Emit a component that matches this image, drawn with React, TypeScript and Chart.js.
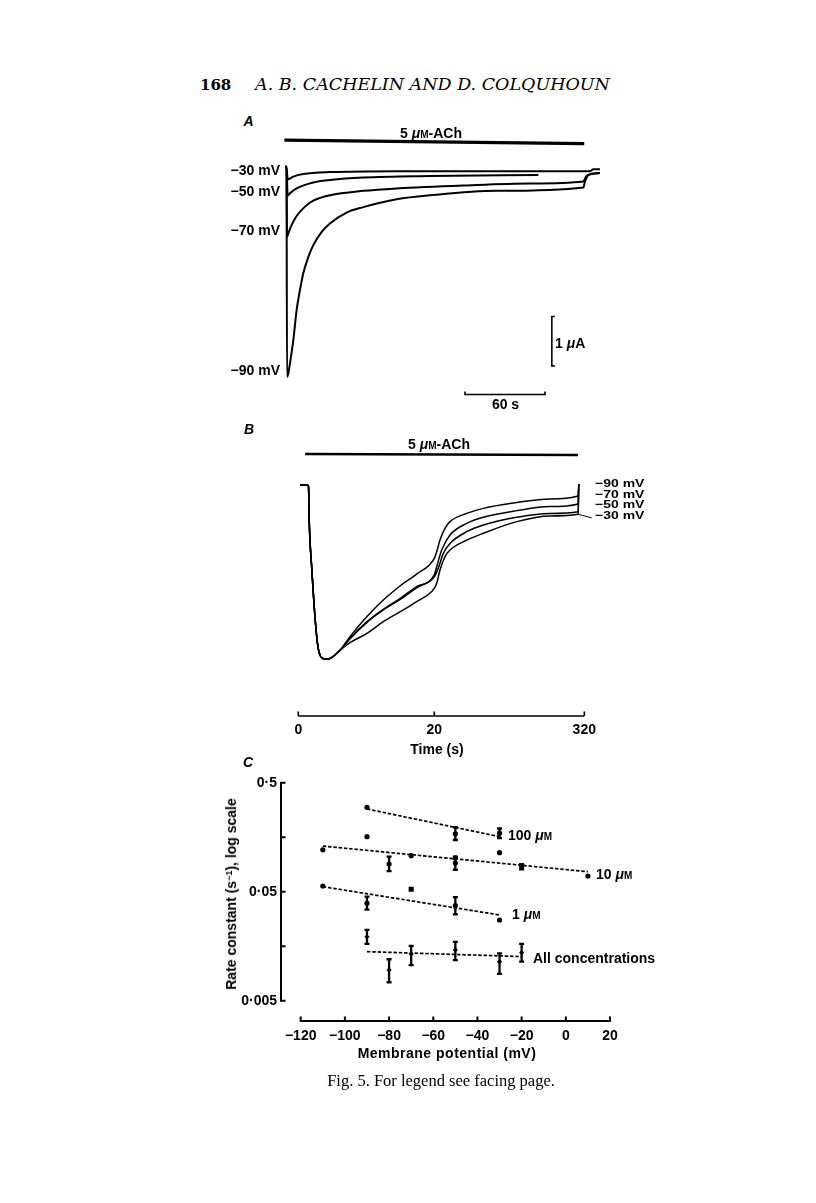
import React, { useEffect, useRef } from "react";
import { Chart, registerables } from "chart.js";

Chart.register(...registerables);

const INK = "#000";
const SANS = '"Liberation Sans", Arial, Helvetica, sans-serif';
const SERIF = '"Liberation Serif", "Times New Roman", serif';
const SERIF_WIDE = '"DejaVu Serif", serif';

// ================= Panel A : current (µA) against time (s) =================
const aTime90 = [-1, 0, 0.4, 1.4, 2.6, 5.1, 7.6, 10.1, 12.6, 16.4, 20.1, 26.4, 32.6, 45.1, 57.6, 82.6, 107.6, 157.6, 222.6, 223.9, 226.4, 235.1];
const aCurr90 = [0, 0, -4.26, -4.19, -3.99, -3.52, -2.91, -2.5, -2.16, -1.83, -1.59, -1.32, -1.15, -0.93, -0.82, -0.66, -0.58, -0.49, -0.42, -0.3, -0.17, -0.13];
const aTime70 = [-1, 0, 0.4, 1.4, 3.9, 7.6, 13.9, 20.1, 32.6, 57.6, 82.6, 132.6, 182.6, 222.6, 224.6, 227.6, 235.1];
const aCurr70 = [0, 0, -1.42, -1.35, -1.18, -1.0, -0.81, -0.69, -0.58, -0.49, -0.44, -0.38, -0.34, -0.3, -0.2, -0.15, -0.13];
const aTime50 = [-1, 0, 0.9, 2.6, 7.6, 20.1, 32.6, 57.6, 107.6, 188.9];
const aCurr50 = [0, 0, -0.59, -0.54, -0.44, -0.32, -0.27, -0.22, -0.19, -0.17];
const aTime30 = [-1, 0, 0.9, 5.1, 12.6, 32.6, 82.6, 227.6, 230.1, 235.1];
const aCurr30 = [0, 0, -0.26, -0.2, -0.15, -0.11, -0.09, -0.09, -0.05, -0.05];
// agonist application bar and calibration bars
const aAChTime = [-1.6, 223.3];
const aAChLevel = [0.54, 0.47];
const aCalCurrTime = [201.2, 199, 199, 201.2];
const aCalCurrLevel = [-3.04, -3.04, -4.04, -4.04];
const aCalTimeTime = [133.9, 133.9, 193.9, 193.9];
const aCalTimeLevel = [-4.56, -4.62, -4.62, -4.56];

// ================= Panel B : normalised current against time (s) =================
const bCommonTime = [0.25, 1.3, 1.5, 1.6, 2.0, 2.5, 2.9, 3.4, 4.1, 4.9, 6.1];
const bCommonCurr = [0, 0, -0.01, -0.2, -0.49, -0.78, -0.93, -0.99, -1.0, -0.99, -0.95];
const bTime90 = [7.6, 10.1, 12.5, 15.0, 17.4, 20.0, 24.8, 31.4, 41.4, 51.4, 84.8, 118, 185, 251, 308, 308.7, 311];
const bCurr90 = [-0.87, -0.755, -0.66, -0.578, -0.511, -0.421, -0.383, -0.316, -0.249, -0.21, -0.163, -0.134, -0.101, -0.08, -0.063, 0, 0];
const bTime70 = [7.6, 10.1, 12.5, 15.0, 17.4, 20.0, 24.8, 34.8, 51.4, 84.8, 118, 185, 251, 308, 308.7, 311];
const bCurr70 = [-0.88, -0.784, -0.713, -0.65, -0.583, -0.516, -0.469, -0.373, -0.287, -0.22, -0.185, -0.147, -0.124, -0.109, 0, 0];
const bTime50 = [7.6, 10.1, 12.5, 15.0, 17.4, 20.0, 28, 38, 51.4, 84.8, 118, 185, 251, 308, 308.7, 311];
const bCurr50 = [-0.882, -0.788, -0.717, -0.656, -0.59, -0.526, -0.478, -0.392, -0.335, -0.268, -0.229, -0.185, -0.163, -0.153, 0, 0];
const bTime30 = [7.6, 10.1, 12.5, 15.0, 17.4, 20.0, 24.8, 31.4, 41.4, 51.4, 84.8, 118, 185, 251, 308, 308.7, 311];
const bCurr30 = [-0.905, -0.851, -0.784, -0.727, -0.669, -0.593, -0.564, -0.488, -0.411, -0.373, -0.316, -0.277, -0.21, -0.178, -0.168, 0, 0];
const bAChTime = [1.0, 307.4];
const bAChLevel = [0.178, 0.172];
const bLeaderTime = [308, 335];
const bLeaderLevel = [-0.168, -0.189];
const bTickTimes = [0, 20, 320];
const bTraceLabels = ["\u221290 mV", "\u221270 mV", "\u221250 mV", "\u221230 mV"];

// ================= Panel C : rate constant (s^-1) against membrane potential (mV) =================
const c100Pot = [-90, -50, -30];
const c100Rate = [0.297, 0.17, 0.172];
const c100Lo = [null, 0.149, 0.155];
const c100Hi = [null, 0.195, 0.19];
const c10Pot = [-110, -90, -80, -70, -50, -50, -30, -20, 10];
const c10Rate = [0.121, 0.16, 0.0897, 0.107, 0.102, 0.0917, 0.114, 0.0848, 0.0697];
const c10Lo = [null, null, 0.0772, null, null, 0.0795, null, 0.08, null];
const c10Hi = [null, null, 0.105, null, null, 0.105, null, 0.0893, null];
const c1Pot = [-110, -90, -70, -50, -30];
const c1Rate = [0.0564, 0.0391, 0.0526, 0.0373, 0.0275];
const c1Lo = [null, 0.0343, null, 0.031, null];
const c1Hi = [null, 0.045, null, 0.0446, null];
const c1Style = ["circle", "circle", "rect", "circle", "circle"];
const c1Radius = [2.6, 2.6, 3.6, 2.6, 2.6];
const cAllPot = [-90, -80, -70, -50, -30, -20];
const cAllRate = [0.0193, 0.00957, 0.0134, 0.0146, 0.0114, 0.0138];
const cAllLo = [0.0166, 0.00738, 0.0106, 0.0118, 0.0088, 0.0114];
const cAllHi = [0.0223, 0.012, 0.0159, 0.0173, 0.0136, 0.0166];
const cFit100Pot = [-90, -30];
const cFit100Rate = [0.287, 0.16];
const cFit10Pot = [-110, 10];
const cFit10Rate = [0.131, 0.0763];
const cFit1Pot = [-110, -30];
const cFit1Rate = [0.0556, 0.0306];
const cFitAllPot = [-90, -20];
const cFitAllRate = [0.0141, 0.0127];
const cXTicks = [-120, -100, -80, -60, -40, -20, 0, 20];
const cYLabelValues = [0.5, 0.05, 0.005];
const cYTickLabels = ["0\u00b75", "0\u00b705", "0\u00b7005"];
const cYMarkValues = [0.5, 0.158, 0.05, 0.0158, 0.005];

// ---------------- layout (page pixels) ----------------
const A_BOX = { left: 262, top: 124, width: 352, height: 286 };
const A_ORIGIN = { x: 286.5, y: 166.7 };
const A_PX_PER_S = 80 / 60;
const A_PX_PER_UA = 49.3;

const B_BOX = { left: 286, top: 436, width: 330, height: 314 };
const B_AREA = { left: 298.3, right: 584.3, top: 436, bottom: 716 };
const B_BASE_Y = 485;
const B_PX_PER_UNIT = 174.3;
const B_SPLIT = 20;
const B_COMPRESS = 150 / 300 / (136 / 20);
const bu = (t: number) => (t <= B_SPLIT ? t : B_SPLIT + (t - B_SPLIT) * B_COMPRESS);

const C_BOX = { left: 196, top: 768, width: 428, height: 286 };
const C_AREA = { left: 300.7, right: 610, top: 782.7, bottom: 1000.7 };
const C_GAP_Y_AXIS = 19.7;
const C_GAP_X_AXIS = 20.3;

const pts = (xs: number[], ys: number[]) => xs.map((x, i) => ({ x, y: ys[i] }));
const tickFont = { family: SANS, size: 14, weight: "bold" as const };

const zeroPad = (s: any) => {
  s.paddingLeft = 0;
  s.paddingRight = 0;
  s.paddingTop = 0;
  s.paddingBottom = 0;
};

const baseOptions = {
  animation: false as const,
  responsive: false,
  devicePixelRatio: 1,
  events: [] as any[],
  plugins: { legend: { display: false }, tooltip: { enabled: false } },
};

function line(data: any[], width: number, extra: any = {}) {
  return {
    data,
    borderColor: INK,
    borderWidth: width,
    pointRadius: 0,
    fill: false,
    showLine: true,
    cubicInterpolationMode: "monotone",
    ...extra,
  };
}

function configA(): any {
  const xmin = (A_BOX.left - A_ORIGIN.x) / A_PX_PER_S;
  const xmax = (A_BOX.left + A_BOX.width - A_ORIGIN.x) / A_PX_PER_S;
  const ymax = (A_ORIGIN.y - A_BOX.top) / A_PX_PER_UA;
  const ymin = -(A_BOX.top + A_BOX.height - A_ORIGIN.y) / A_PX_PER_UA;
  return {
    type: "scatter",
    data: {
      datasets: [
        line(pts(aTime90, aCurr90), 2),
        line(pts(aTime70, aCurr70), 2),
        line(pts(aTime50, aCurr50), 2),
        line(pts(aTime30, aCurr30), 2),
        line(pts(aAChTime, aAChLevel), 3.2, { cubicInterpolationMode: "default", tension: 0 }),
        line(pts(aCalCurrTime, aCalCurrLevel), 1.6, { cubicInterpolationMode: "default", tension: 0 }),
        line(pts(aCalTimeTime, aCalTimeLevel), 1.6, { cubicInterpolationMode: "default", tension: 0 }),
      ],
    },
    options: {
      ...baseOptions,
      layout: { padding: 0 },
      scales: {
        x: { type: "linear", display: false, min: xmin, max: xmax },
        y: { type: "linear", display: false, min: ymin, max: ymax },
      },
    },
  };
}

const bAxisPlugin = {
  id: "bAxis",
  afterDraw(chart: any) {
    const { ctx, chartArea, scales } = chart;
    const y = chartArea.bottom;
    const x0 = scales.x.getPixelForValue(bu(bTickTimes[0]));
    const x1 = scales.x.getPixelForValue(bu(bTickTimes[bTickTimes.length - 1]));
    ctx.save();
    ctx.strokeStyle = INK;
    ctx.lineWidth = 1.6;
    ctx.beginPath();
    ctx.moveTo(x0, y);
    ctx.lineTo(x1, y);
    for (const t of bTickTimes) {
      const x = scales.x.getPixelForValue(bu(t));
      ctx.moveTo(x, y);
      ctx.lineTo(x, y - 4.5);
    }
    ctx.stroke();
    ctx.restore();
  },
};

function configB(): any {
  const ymax = (B_BASE_Y - B_AREA.top) / B_PX_PER_UNIT;
  const ymin = -(B_AREA.bottom - B_BASE_Y) / B_PX_PER_UNIT;
  const trace = (t: number[], c: number[]) =>
    [...bCommonTime, ...t].map((tt, i) => ({ x: bu(tt), y: [...bCommonCurr, ...c][i] }));
  return {
    type: "scatter",
    data: {
      datasets: [
        line(trace(bTime30, bCurr30), 1.5),
        line(trace(bTime50, bCurr50), 1.5),
        line(trace(bTime70, bCurr70), 1.5),
        line(trace(bTime90, bCurr90), 1.5),
        line(bAChTime.map((t, i) => ({ x: bu(t), y: bAChLevel[i] })), 2.4, { tension: 0, cubicInterpolationMode: "default" }),
        line(bLeaderTime.map((t, i) => ({ x: bu(t), y: bLeaderLevel[i] })), 1, { tension: 0, cubicInterpolationMode: "default", clip: false }),
      ],
    },
    options: {
      ...baseOptions,
      layout: {
        padding: {
          left: B_AREA.left - B_BOX.left,
          right: B_BOX.left + B_BOX.width - B_AREA.right,
          top: B_AREA.top - B_BOX.top,
          bottom: 0,
        },
      },
      scales: {
        x: {
          type: "linear",
          min: 0,
          max: bu(bTickTimes[bTickTimes.length - 1]),
          grid: { display: false, drawTicks: false },
          border: { display: false },
          ticks: {
            autoSkip: false,
            maxRotation: 0,
            padding: 5.6,
            color: INK,
            font: tickFont,
            callback: (_v: any, i: number) => String(bTickTimes[i]),
          },
          afterBuildTicks: (s: any) => {
            s.ticks = bTickTimes.map((t) => ({ value: bu(t) }));
          },
          afterFit: (s: any) => {
            s.height = B_BOX.top + B_BOX.height - B_AREA.bottom;
            zeroPad(s);
          },
        },
        y: { type: "linear", display: false, min: ymin, max: ymax },
      },
    },
    plugins: [bAxisPlugin],
  };
}

const cAxesPlugin = {
  id: "cAxes",
  afterDraw(chart: any) {
    const { ctx, chartArea, scales } = chart;
    const xs = scales.x;
    const ys = scales.y;
    ctx.save();
    ctx.strokeStyle = INK;
    ctx.lineWidth = 2;
    // y axis, set apart from the plot
    const ax = chartArea.left - C_GAP_Y_AXIS;
    const yTop = ys.getPixelForValue(cYMarkValues[0]);
    const yBot = ys.getPixelForValue(cYMarkValues[cYMarkValues.length - 1]);
    ctx.beginPath();
    ctx.moveTo(ax, yTop - 1);
    ctx.lineTo(ax, yBot + 1);
    for (const v of cYMarkValues) {
      const p = ys.getPixelForValue(v);
      ctx.moveTo(ax, p);
      ctx.lineTo(ax + 4.5, p);
    }
    // x axis, set apart from the plot
    const ay = chartArea.bottom + C_GAP_X_AXIS;
    const xl = xs.getPixelForValue(cXTicks[0]);
    const xr = xs.getPixelForValue(cXTicks[cXTicks.length - 1]);
    ctx.moveTo(xl - 1, ay);
    ctx.lineTo(xr + 1, ay);
    for (const v of cXTicks) {
      const p = xs.getPixelForValue(v);
      ctx.moveTo(p, ay);
      ctx.lineTo(p, ay - 4.5);
    }
    ctx.stroke();
    ctx.restore();
  },
};

const errorBarPlugin = {
  id: "errorBars",
  afterDatasetsDraw(chart: any) {
    const { ctx, scales } = chart;
    const cap = 2.5;
    ctx.save();
    ctx.strokeStyle = INK;
    ctx.lineWidth = 2.3;
    chart.data.datasets.forEach((ds: any) => {
      if (!ds.errLo) return;
      ds.data.forEach((p: any, i: number) => {
        const lo = ds.errLo[i];
        const hi = ds.errHi[i];
        if (lo == null || hi == null) return;
        const x = scales.x.getPixelForValue(p.x);
        const y1 = scales.y.getPixelForValue(lo);
        const y2 = scales.y.getPixelForValue(hi);
        ctx.beginPath();
        ctx.moveTo(x, y1);
        ctx.lineTo(x, y2);
        ctx.moveTo(x - cap, y1);
        ctx.lineTo(x + cap, y1);
        ctx.moveTo(x - cap, y2);
        ctx.lineTo(x + cap, y2);
        ctx.stroke();
      });
    });
    ctx.restore();
  },
};

function configC(): any {
  const fit = (xs: number[], ys: number[]) =>
    line(pts(xs, ys), 1.7, { borderDash: [3.5, 1.8], tension: 0, cubicInterpolationMode: "default" });
  const dots = (xs: number[], ys: number[], lo: any[], hi: any[], extra: any = {}) => ({
    data: pts(xs, ys),
    showLine: false,
    pointRadius: 2.6,
    pointBackgroundColor: INK,
    pointBorderColor: INK,
    pointBorderWidth: 0,
    errLo: lo,
    errHi: hi,
    ...extra,
  });
  return {
    type: "scatter",
    data: {
      datasets: [
        fit(cFit100Pot, cFit100Rate),
        fit(cFit10Pot, cFit10Rate),
        fit(cFit1Pot, cFit1Rate),
        fit(cFitAllPot, cFitAllRate),
        dots(c100Pot, c100Rate, c100Lo, c100Hi),
        dots(c10Pot, c10Rate, c10Lo, c10Hi),
        dots(c1Pot, c1Rate, c1Lo, c1Hi, { pointStyle: c1Style, pointRadius: c1Radius }),
        dots(cAllPot, cAllRate, cAllLo, cAllHi, { pointStyle: "rectRot", pointRadius: 2.6 }),
      ],
    },
    options: {
      ...baseOptions,
      layout: {
        padding: {
          left: 0,
          right: C_BOX.left + C_BOX.width - C_AREA.right,
          top: C_AREA.top - C_BOX.top,
          bottom: 0,
        },
      },
      scales: {
        x: {
          type: "linear",
          min: cXTicks[0],
          max: cXTicks[cXTicks.length - 1],
          grid: { display: false, drawTicks: false },
          border: { display: false },
          ticks: {
            autoSkip: false,
            maxRotation: 0,
            padding: 26.9,
            color: INK,
            font: tickFont,
            callback: (_v: any, i: number) => {
              const v = cXTicks[i];
              return v < 0 ? "\u2212" + Math.abs(v) : String(v);
            },
          },
          afterBuildTicks: (s: any) => {
            s.ticks = cXTicks.map((v) => ({ value: v }));
          },
          afterFit: (s: any) => {
            s.height = C_BOX.top + C_BOX.height - C_AREA.bottom;
            zeroPad(s);
          },
        },
        y: {
          type: "logarithmic",
          min: cYLabelValues[cYLabelValues.length - 1],
          max: cYLabelValues[0],
          grid: { display: false, drawTicks: false },
          border: { display: false },
          ticks: {
            autoSkip: false,
            padding: 23.7,
            color: INK,
            font: tickFont,
            callback: (_v: any, i: number) => cYTickLabels[i],
          },
          afterBuildTicks: (s: any) => {
            s.ticks = cYLabelValues.map((v) => ({ value: v }));
          },
          afterFit: (s: any) => {
            s.width = C_AREA.left - C_BOX.left;
            zeroPad(s);
          },
        },
      },
    },
    plugins: [cAxesPlugin, errorBarPlugin],
  };
}

// ---------------- text helpers ----------------
type TProps = {
  x: number;
  y: number;
  a?: "l" | "c" | "r";
  s?: React.CSSProperties;
  t?: string;
  children: React.ReactNode;
};
function T({ x, y, a = "c", s, t = "", children }: TProps) {
  const tx = a === "l" ? "0" : a === "r" ? "-100%" : "-50%";
  return (
    <div
      style={{
        position: "absolute",
        left: x,
        top: y,
        transform: `translate(${tx},-50%) ${t}`,
        transformOrigin: a === "l" ? "left center" : a === "r" ? "right center" : "center center",
        whiteSpace: "nowrap",
        lineHeight: 1,
        fontFamily: SANS,
        fontWeight: "bold",
        fontSize: 14,
        color: INK,
        ...s,
      }}
    >
      {children}
    </div>
  );
}

const MicroM = () => (
  <>
    <i>μ</i>
    <span style={{ fontVariant: "small-caps" }}>m</span>
  </>
);

export default function App() {
  const refA = useRef<HTMLCanvasElement>(null);
  const refB = useRef<HTMLCanvasElement>(null);
  const refC = useRef<HTMLCanvasElement>(null);

  useEffect(() => {
    const charts = [
      new Chart(refA.current as HTMLCanvasElement, configA()),
      new Chart(refB.current as HTMLCanvasElement, configB()),
      new Chart(refC.current as HTMLCanvasElement, configC()),
    ];
    return () => charts.forEach((c) => c.destroy());
  }, []);

  const canvasStyle = (b: { left: number; top: number; width: number; height: number }) =>
    ({ position: "absolute", left: b.left, top: b.top, width: b.width, height: b.height } as React.CSSProperties);

  return (
    <div
      style={{
        position: "absolute",
        left: 0,
        top: 0,
        width: 816,
        height: 1203,
        background: "#fff",
        overflow: "hidden",
      }}
    >
      <canvas ref={refA} width={A_BOX.width} height={A_BOX.height} style={canvasStyle(A_BOX)} />
      <canvas ref={refB} width={B_BOX.width} height={B_BOX.height} style={canvasStyle(B_BOX)} />
      <canvas ref={refC} width={C_BOX.width} height={C_BOX.height} style={canvasStyle(C_BOX)} />

      {/* running head */}
      <T x={200} y={85} a="l" s={{ fontFamily: SERIF_WIDE, fontSize: 15, fontWeight: "bold" }}>
        168
      </T>
      <T x={255} y={85} a="l" s={{ fontFamily: SERIF_WIDE, fontSize: 17.5, fontStyle: "italic", fontWeight: "normal" }}>
        A. B. CACHELIN AND D. COLQUHOUN
      </T>

      {/* panel A */}
      <T x={248.5} y={121} s={{ fontStyle: "italic" }}>A</T>
      <T x={431} y={133}>
        5 <MicroM />-ACh
      </T>
      <T x={280} y={169.5} a="r">{"\u221230 mV"}</T>
      <T x={280} y={190.5} a="r">{"\u221250 mV"}</T>
      <T x={280} y={229.5} a="r">{"\u221270 mV"}</T>
      <T x={280} y={369.5} a="r">{"\u221290 mV"}</T>
      <T x={555} y={342.5} a="l">
        1 <i>μ</i>A
      </T>
      <T x={505.5} y={404}>60 s</T>

      {/* panel B */}
      <T x={249} y={429} s={{ fontStyle: "italic" }}>B</T>
      <T x={439} y={444}>
        5 <MicroM />-ACh
      </T>
      {bTraceLabels.map((lab, i) => (
        <T key={lab} x={595} y={483 + i * 10.6} a="l" t="scale(1, 0.8)">
          {lab}
        </T>
      ))}
      <T x={437} y={749}>Time (s)</T>

      {/* panel C */}
      <T x={248} y={762} s={{ fontStyle: "italic" }}>C</T>
      <T x={508} y={835} a="l">
        100 <MicroM />
      </T>
      <T x={596} y={873.5} a="l">
        10 <MicroM />
      </T>
      <T x={512} y={914} a="l">
        1 <MicroM />
      </T>
      <T x={533} y={958} a="l">All concentrations</T>
      <T x={231} y={894} t="rotate(-90deg)">
        Rate constant (s<sup style={{ fontSize: 9, verticalAlign: "4px" }}>{"\u22121"}</sup>), log scale
      </T>
      <T x={447} y={1053} s={{ letterSpacing: 0.5 }}>Membrane potential (mV)</T>

      {/* caption */}
      <T x={441} y={1081} s={{ fontFamily: SERIF, fontSize: 16.5, fontWeight: "normal" }}>
        Fig. 5. For legend see facing page.
      </T>
    </div>
  );
}
